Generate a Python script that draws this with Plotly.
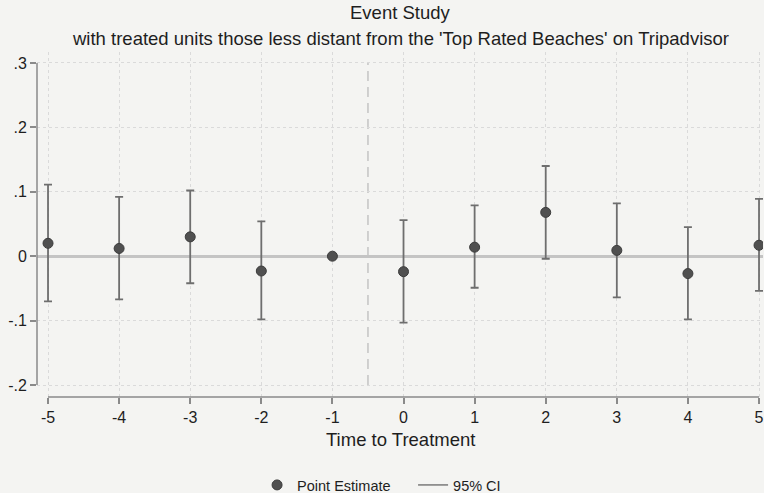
import plotly.graph_objects as go

# Event-study coefficients by period relative to treatment
periods = [-5, -4, -3, -2, -1, 0, 1, 2, 3, 4, 5]
estimates = [0.020, 0.012, 0.030, -0.023, 0.000, -0.024, 0.014, 0.068, 0.009, -0.027, 0.017]
ci_upper = [0.111, 0.092, 0.102, 0.054, 0.000, 0.056, 0.079, 0.140, 0.082, 0.045, 0.089]
ci_lower = [-0.070, -0.067, -0.042, -0.098, 0.000, -0.103, -0.049, -0.004, -0.064, -0.098, -0.054]

y_tickvals = [0.3, 0.2, 0.1, 0.0, -0.1, -0.2]
y_ticktext = [".3", ".2", ".1", "0", "-.1", "-.2"]
x_ticktext = [str(p) for p in periods]

treatment_line = -0.5

title_text = "Event Study"
subtitle_text = "with treated units those less distant from the 'Top Rated Beaches' on Tripadvisor"
x_title = "Time to Treatment"

BG = "#f4f4f2"
FONT = "Liberation Sans, Arial, Helvetica, sans-serif"
TXT = "#1e1e1e"

err_plus = [u - e for u, e in zip(ci_upper, estimates)]
err_minus = [e - l for e, l in zip(estimates, ci_lower)]

fig = go.Figure()

fig.add_trace(go.Scatter(
    x=periods, y=estimates, mode="markers", name="Point Estimate",
    marker=dict(size=10, color="#505050", line=dict(color="#3c3c3c", width=1)),
    error_y=dict(type="data", symmetric=False, array=err_plus, arrayminus=err_minus,
                 color="#6e6e6e", thickness=1.8, width=4),
))

# legend entry for the confidence intervals
fig.add_trace(go.Scatter(
    x=[None], y=[None], mode="lines", name="95% CI",
    line=dict(color="#7a7a7a", width=1.5),
))

# axis lines spanning the tick range
fig.add_shape(type="line", xref="paper", yref="y", x0=0, x1=0,
              y0=min(y_tickvals), y1=max(y_tickvals),
              line=dict(color="#8a8a8a", width=1.5))
fig.add_shape(type="line", xref="x", yref="paper", x0=min(periods), x1=max(periods),
              y0=0, y1=0, line=dict(color="#8a8a8a", width=1.5))

# treatment onset marker
fig.add_shape(type="line", xref="x", yref="y", x0=treatment_line, x1=treatment_line,
              y0=min(y_tickvals), y1=max(y_tickvals),
              line=dict(color="#c4c4c4", width=1.5, dash="10px,6px"), layer="below")

# titles as annotations
fig.add_annotation(text=title_text, xref="paper", yref="paper", x=0.5, y=1.0 + 39 / 345,
                   xanchor="center", yanchor="middle", showarrow=False,
                   font=dict(size=18.5, color=TXT))
fig.add_annotation(text=subtitle_text, xref="paper", yref="paper", x=0.5, y=1.0 + 14 / 345,
                   xanchor="center", yanchor="middle", showarrow=False,
                   font=dict(size=18.5, color=TXT))
fig.add_annotation(text=x_title, xref="paper", yref="paper", x=0.5, y=-42 / 345,
                   xanchor="center", yanchor="middle", showarrow=False,
                   font=dict(size=18.5, color=TXT))

fig.update_layout(
    width=764, height=493,
    margin=dict(l=37, r=1, t=52, b=96, autoexpand=False),
    paper_bgcolor=BG, plot_bgcolor=BG,
    font=dict(family=FONT, color=TXT),
    showlegend=True,
    legend=dict(orientation="h", x=0.518, xanchor="center", y=-88 / 345, yanchor="middle",
                font=dict(size=14.5, color=TXT), bgcolor="rgba(0,0,0,0)",
                itemwidth=30, tracegroupgap=0, entrywidth=111, entrywidthmode="pixels"),
    xaxis=dict(
        range=[-5.155, 5.056], tickvals=periods, ticktext=x_ticktext,
        showgrid=True, gridcolor="#dadada", griddash="dot", gridwidth=1,
        zeroline=False, showline=False, automargin=False,
        ticks="outside", ticklen=6, tickcolor="#8a8a8a", tickwidth=1.5,
        tickfont=dict(size=16, color=TXT),
    ),
    yaxis=dict(
        range=[-0.2186, 0.317], tickvals=y_tickvals, ticktext=y_ticktext,
        showgrid=True, gridcolor="#dadada", griddash="dot", gridwidth=1,
        zeroline=True, zerolinecolor="#c4c4c4", zerolinewidth=2.5,
        showline=False, automargin=False,
        ticks="outside", ticklen=6, tickcolor="#8a8a8a", tickwidth=1.5,
        tickfont=dict(size=16, color=TXT),
    ),
)

fig.write_html("out.html")
